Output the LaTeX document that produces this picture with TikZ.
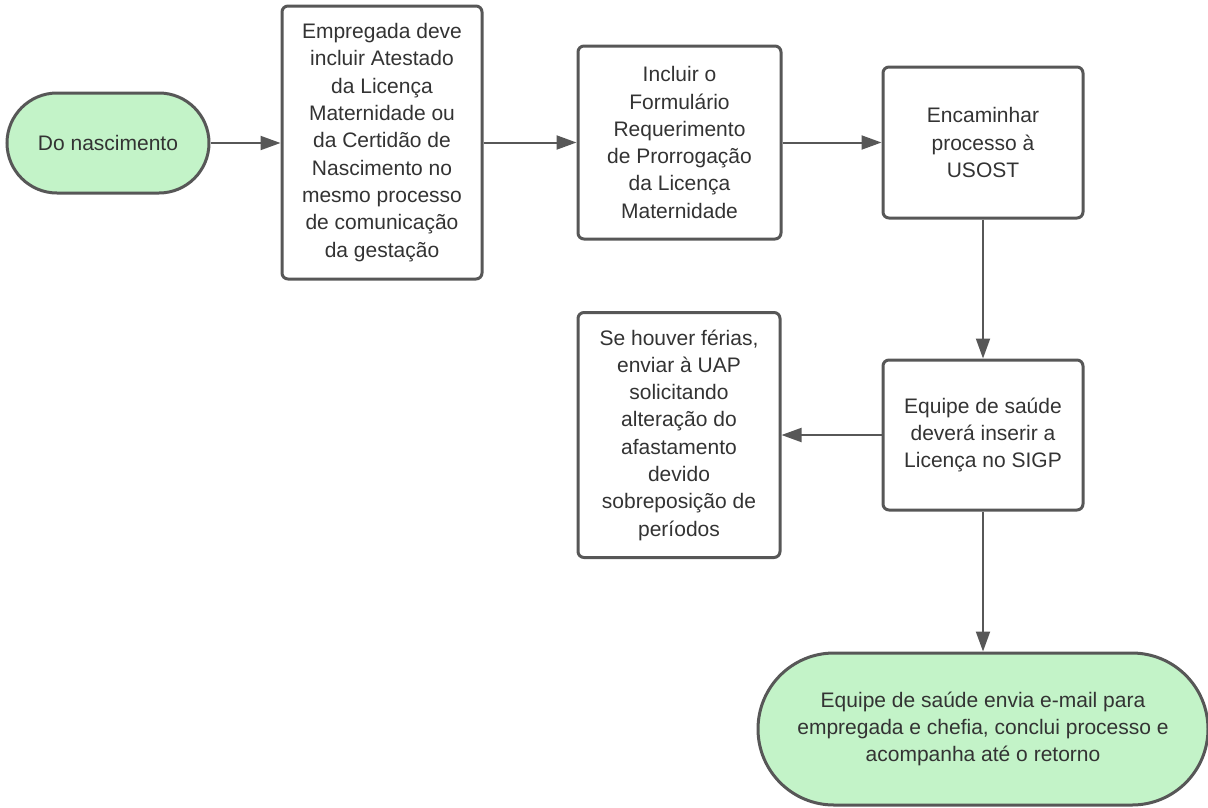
\documentclass[tikz,border=0pt]{standalone}
\usepackage{fontspec}
\setmainfont{Liberation Sans}
\usetikzlibrary{arrows.meta}
\definecolor{lineg}{HTML}{575757}
\definecolor{termg}{HTML}{C3F3C8}
\definecolor{txtg}{HTML}{333333}
\tikzset{
  box/.style={draw=lineg, line width=3pt, rounded corners=6pt, fill=white, align=center,
    inner sep=0pt, text=txtg, font=\fontsize{21}{27.3}\selectfont},
  term/.style={box, fill=termg, rounded corners=#1},
  arr/.style={draw=lineg, line width=2pt, -{Triangle[length=20pt,width=14pt]}}
}
\begin{document}
\begin{tikzpicture}[x=1pt,y=-1pt]
\useasboundingbox (0,0) rectangle (1208,807);
\node[term=50pt, minimum width=202pt, minimum height=100pt] (t1) at (108,143) {Do nascimento};
\node[box, minimum width=200pt, minimum height=273pt] (b1) at (382,142.5)
  {Empregada deve\\incluir Atestado\\da Licença\\Maternidade ou\\da Certidão de\\Nascimento no\\mesmo processo\\de comunicação\\da gestação};
\node[box, minimum width=203pt, minimum height=193pt] (b2) at (679.5,142.5)
  {Incluir o\\Formulário\\Requerimento\\de Prorrogação\\da Licença\\Maternidade};
\node[box, minimum width=200pt, minimum height=151pt] (b3) at (983,142.5)
  {Encaminhar\\processo à\\USOST};
\node[box, minimum width=200pt, minimum height=150pt] (b4) at (983,435)
  {Equipe de saúde\\deverá inserir a\\Licença no SIGP};
\node[box, minimum width=202pt, minimum height=245pt] (b5) at (679,435)
  {Se houver férias,\\enviar à UAP\\solicitando\\alteração do\\afastamento\\devido\\sobreposição de\\períodos};
\node[term=76pt, minimum width=450pt, minimum height=152pt] (t2) at (983,729)
  {Equipe de saúde envia e-mail para\\empregada e chefia, conclui processo e\\acompanha até o retorno};
\draw[arr] (t1.east) -- (t1.east -| b1.west);
\draw[arr] (b1.east) -- (b1.east -| b2.west);
\draw[arr] (b2.east) -- (b2.east -| b3.west);
\draw[arr] (b3.south) -- (b4.north);
\draw[arr] (b4.west) -- (b4.west -| b5.east);
\draw[arr] (b4.south) -- (b4.south |- t2.north);
\end{tikzpicture}
\end{document}
